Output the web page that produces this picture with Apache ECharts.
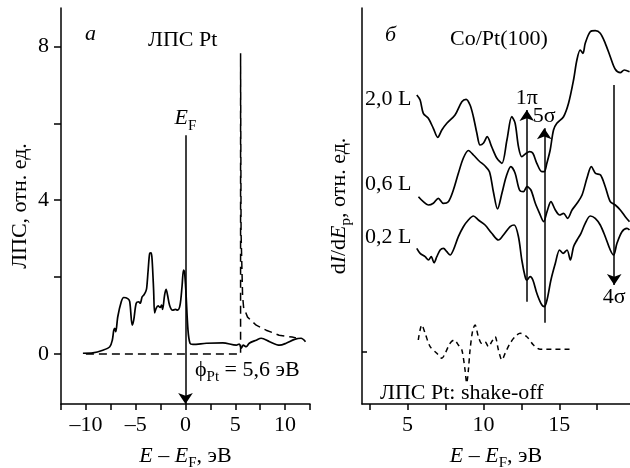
<!DOCTYPE html>
<html>
<head>
<meta charset="utf-8">
<script src="https://cdn.jsdelivr.net/npm/echarts@6/dist/echarts.min.js"></script>
<style>
  html, body { margin: 0; padding: 0; background: #fff; }
  #main { width: 630px; height: 468px; }
</style>
</head>
<body>
<div id="main"></div>
<script>
// panel a: LDOS of Pt
var ldosX = [-10.3, -9.3, -8.3, -7.6, -7.35, -7.2, -7.1, -7.0, -6.8, -6.45, -6.2, -5.8, -5.6, -5.35, -5.2, -4.95, -4.7, -4.55, -4.35, -4.2, -4.0, -3.9, -3.75, -3.6, -3.45, -3.35, -3.2, -3.1, -2.95, -2.75, -2.55, -2.4, -2.3, -2.1, -1.95, -1.8, -1.6, -1.3, -1.0, -0.8, -0.55, -0.35, -0.2, -0.1, 0.05, 0.25, 0.45, 0.75, 2.1, 3.75, 5.1, 5.4, 5.6, 5.8, 6.1, 6.4, 7.1, 7.6, 8.45, 9.45, 10.1, 10.95, 11.6, 12.05];
var ldosY = [0.02, 0.03, 0.10, 0.19, 0.36, 0.62, 0.67, 0.58, 0.97, 1.36, 1.47, 1.44, 1.36, 0.75, 0.88, 1.32, 1.36, 1.32, 1.49, 1.53, 1.62, 1.71, 2.18, 2.61, 2.63, 2.44, 1.66, 1.07, 1.19, 1.25, 1.21, 1.27, 1.16, 1.53, 1.68, 1.53, 1.27, 1.14, 1.16, 1.14, 1.27, 1.75, 2.18, 2.14, 1.58, 0.62, 0.28, 0.25, 0.28, 0.29, 0.23, 0.26, 0.15, 0.23, 0.19, 0.28, 0.36, 0.41, 0.32, 0.23, 0.28, 0.38, 0.41, 0.32];
// dashed: zero line, vacuum level spike and decay
var vacX = [-10, 5.53, 5.53, 5.58, 5.73, 5.83, 6.23, 7.1, 8.1, 9.4, 10.7, 11.1];
var vacY = [0, 0, 7.82, 3.14, 1.53, 1.22, 0.96, 0.75, 0.62, 0.49, 0.44, 0.42];
var fermiArrow = [0, 5.69, -1.3];   // x, from, to

// panel б: dI/dEp spectra (arbitrary units)
var l20X = [5.61, 5.83, 6.04, 6.37, 6.70, 6.99, 7.26, 7.59, 8.13, 8.58, 8.86, 9.12, 9.34, 9.57, 9.78, 10.01, 10.25, 10.54, 10.89, 11.22, 11.55, 11.87, 12.09, 12.31, 12.53, 12.82, 13.04, 13.26, 13.52, 13.85, 14.01, 14.18, 14.40, 14.62, 14.84, 15.28, 15.61, 15.94, 16.16, 16.38, 16.56, 16.71, 17.04, 17.37, 17.70, 18.03, 18.36, 18.69, 19.02, 19.28, 19.63];
var l20Y = [309, 304, 290.7, 285.7, 275.7, 266.7, 274, 280.7, 289, 302.3, 304.7, 299, 287.3, 270.7, 259, 261, 267.3, 257.3, 245.7, 240.7, 264, 287.3, 280.7, 257.3, 247.3, 250.7, 252.3, 250.7, 240.7, 232.3, 232.3, 240.7, 254, 274, 280.7, 287.3, 300.7, 324, 344, 354, 350.7, 360.7, 372.3, 373.3, 370.7, 360.7, 347.3, 334.7, 331.3, 334, 332.3];
var l06X = [5.72, 6.04, 6.37, 6.70, 7.03, 7.36, 7.69, 8.02, 8.35, 8.68, 9.01, 9.34, 9.72, 10.11, 10.40, 10.66, 10.93, 11.22, 11.50, 11.81, 12.09, 12.38, 12.64, 12.87, 13.13, 13.42, 13.70, 13.97, 14.19, 14.45, 14.74, 15.02, 15.28, 15.55, 15.84, 16.17, 16.50, 16.85, 17.11, 17.39, 17.72, 18.03, 18.36, 18.69, 19.02, 19.35, 19.63];
var l06Y = [207.3, 202.3, 199, 200.7, 205.7, 200.7, 202.3, 214, 230.7, 246, 253.5, 249, 243, 238, 232.3, 212, 195, 210.7, 227.3, 237.3, 230.7, 214, 212.3, 217.3, 214, 200.7, 190.7, 182.3, 192.3, 202.3, 194, 189, 190.7, 185.7, 194, 200.7, 209, 227.3, 237.3, 230.7, 229, 217.3, 202.3, 199, 194, 187.3, 182.3];
var l02X = [5.61, 5.83, 6.16, 6.38, 6.56, 6.75, 6.93, 7.15, 7.37, 7.59, 7.81, 8.02, 8.35, 8.68, 9.01, 9.34, 9.67, 10.11, 10.55, 10.99, 11.32, 11.76, 12.03, 12.31, 12.53, 12.75, 12.86, 13.08, 13.26, 13.52, 13.79, 14.01, 14.19, 14.45, 14.74, 15.02, 15.25, 15.51, 15.73, 15.94, 16.17, 16.43, 16.71, 17.04, 17.37, 17.70, 18.03, 18.36, 18.58, 18.80, 19.13, 19.46, 19.63];
var l02Y = [155.7, 150.7, 147.3, 144, 147.3, 141.3, 147.3, 154, 155.7, 152.3, 149, 154, 167.3, 177.3, 184, 188, 184, 179, 170.7, 164, 169, 177.3, 179, 167.3, 144, 127.3, 124, 127.3, 124, 110.7, 100.7, 97.3, 104, 124, 140.7, 154, 150.7, 154, 144, 157.3, 164, 170.7, 180.7, 188, 185.7, 179, 167.3, 154, 149, 160.7, 172.3, 175.7, 174];
var shakeX = [5.71, 5.94, 6.16, 6.49, 6.93, 7.26, 7.48, 7.80, 8.07, 8.35, 8.58, 8.79, 8.90, 9.01, 9.12, 9.30, 9.45, 9.67, 9.89, 10.11, 10.33, 10.55, 10.77, 10.99, 11.22, 11.43, 11.76, 12.09, 12.42, 12.86, 13.30, 13.74, 15.72];
var shakeY = [64, 79, 70.7, 57.3, 50.7, 45.7, 50.7, 60.7, 64, 59, 54, 34, 21, 34, 54, 74, 79, 67.3, 60.7, 62.3, 57.3, 62.3, 67.3, 54, 44, 50.7, 60.7, 67.3, 70.7, 67.3, 59, 54.7, 54.7];
// arrows: x, from, to, label
var arrowX = [12.86, 14.01, 18.62];
var arrowFrom = [102.3, 81.3, 319];
var arrowTo = [294, 275.7, 119];
var arrowText = ['1π', '5σ', '4σ'];

// ticks and labels
var ticksA = [-12.5, -10, -7.5, -5, -2.5, 0, 2.5, 5, 7.5, 10, 12.5];
var labelsA = [-10, -5, 0, 5, 10];
var yTicksA = [0, 2, 4, 6, 8];
var yLabelsA = [0, 4, 8];
var ticksB = [2.5, 5, 7.5, 10, 12.5, 15, 17.5];
var labelsB = [5, 10, 15];
var yTicksB = [52];

var FONT = 'Liberation Serif';
var rich = {
  n: { fontFamily: FONT, fontSize: 22, lineHeight: 30, color: '#000' },
  i: { fontFamily: FONT, fontSize: 22, lineHeight: 30, fontStyle: 'italic', color: '#000' },
  sub: { fontFamily: FONT, fontSize: 15, lineHeight: 15, verticalAlign: 'bottom', color: '#000' }
};

function pairs(xs, ys) {
  return xs.map(function (x, i) { return [x, ys[i]]; });
}

var chart = echarts.init(document.getElementById('main'), null, { renderer: 'canvas' });

var axisLine = { show: true, onZero: false, lineStyle: { color: '#000', width: 1.5 } };
var tickStyle = { color: '#000', width: 1.5 };
var labelStyle = { color: '#000', fontFamily: FONT, fontSize: 22 };

function fmtMinus(v) {
  return String(v).replace('-', '\u2013');
}

var curveStyle = { color: '#000', width: 1.7 };
var nameStyle = { rich: rich, fontFamily: FONT, fontSize: 22, lineHeight: 30, color: '#000' };

var option = {
  backgroundColor: '#fff',
  animation: false,
  grid: [
    { left: 61, top: 8, width: 249, height: 396, outerBoundsMode: 'none', containLabel: false },
    { left: 362, top: 8, width: 268, height: 396, outerBoundsMode: 'none', containLabel: false }
  ],
  xAxis: [
    {
      gridIndex: 0, type: 'value', min: -12.5, max: 12.5,
      axisLine: axisLine,
      axisTick: { show: true, inside: false, length: 6, lineStyle: tickStyle, customValues: ticksA },
      axisLabel: Object.assign({ margin: 10, customValues: labelsA, formatter: fmtMinus }, labelStyle),
      splitLine: { show: false },
      name: '{i|E} – {i|E}{sub|F}, эВ',
      nameLocation: 'middle', nameGap: 23,
      nameTextStyle: nameStyle
    },
    {
      gridIndex: 1, type: 'value', min: 2, max: 19.66,
      axisLine: axisLine,
      axisTick: { show: true, inside: false, length: 6, lineStyle: tickStyle, customValues: ticksB },
      axisLabel: Object.assign({ margin: 10, customValues: labelsB }, labelStyle),
      splitLine: { show: false },
      name: '{i|E} – {i|E}{sub|F}, эВ',
      nameLocation: 'middle', nameGap: 23,
      nameTextStyle: nameStyle
    }
  ],
  yAxis: [
    {
      gridIndex: 0, type: 'value', min: -1.3, max: 9,
      axisLine: axisLine,
      axisTick: { show: true, inside: false, length: 7, lineStyle: tickStyle, customValues: yTicksA },
      axisLabel: Object.assign({ margin: 12, customValues: yLabelsA }, labelStyle),
      splitLine: { show: false },
      name: 'ЛПС, отн. ед.',
      nameLocation: 'middle', nameGap: 30, nameRotate: 90,
      nameTextStyle: { fontFamily: FONT, fontSize: 22, color: '#000' }
    },
    {
      gridIndex: 1, type: 'value', min: 0, max: 396,
      axisLine: axisLine,
      axisTick: { show: true, inside: true, length: 5, lineStyle: tickStyle, customValues: yTicksB },
      axisLabel: { show: false },
      splitLine: { show: false },
      name: 'd{i|I}/d{i|E}{sub|p}, отн. ед.',
      nameLocation: 'middle', nameGap: 8, nameRotate: 90,
      nameTextStyle: nameStyle
    }
  ],
  graphic: [
    { type: 'text', left: 85, top: 23, style: { text: 'a', font: 'italic 22px "Liberation Serif"', fill: '#000' } },
    { type: 'text', left: 148, top: 29, style: { text: 'ЛПС Pt', font: '22px "Liberation Serif"', fill: '#000' } },
    { type: 'text', left: 195, top: 359, style: { text: '{n|\u03d5}{sub|Pt}{n| = 5,6 эВ}', rich: rich } },
    { type: 'text', left: 385, top: 24, style: { text: 'б', font: 'italic 22px "Liberation Serif"', fill: '#000' } },
    { type: 'text', left: 450, top: 28, style: { text: 'Co/Pt(100)', font: '22px "Liberation Serif"', fill: '#000' } },
    { type: 'text', left: 365, top: 88, style: { text: '2,0 L', font: '22px "Liberation Serif"', fill: '#000' } },
    { type: 'text', left: 365, top: 173, style: { text: '0,6 L', font: '22px "Liberation Serif"', fill: '#000' } },
    { type: 'text', left: 365, top: 226, style: { text: '0,2 L', font: '22px "Liberation Serif"', fill: '#000' } },
    { type: 'text', left: 380, top: 382, style: { text: 'ЛПС Pt: shake-off', font: '22px "Liberation Serif"', fill: '#000' } }
  ],
  series: [
    {
      type: 'line', xAxisIndex: 0, yAxisIndex: 0, data: pairs(ldosX, ldosY),
      showSymbol: false, smooth: 0.3, lineStyle: curveStyle, silent: true,
      markLine: {
        silent: true, symbol: ['none', 'arrow'], symbolSize: 11,
        lineStyle: { color: '#000', width: 1.5, type: 'solid' },
        data: [[
          { coord: [fermiArrow[0], fermiArrow[1]], label: { show: true, position: 'start', distance: 2, formatter: '{i|E}{sub|F}', rich: rich } },
          { coord: [fermiArrow[0], fermiArrow[2]] }
        ]]
      }
    },
    {
      type: 'line', xAxisIndex: 0, yAxisIndex: 0, data: pairs(vacX, vacY),
      showSymbol: false, smooth: false, silent: true,
      lineStyle: { color: '#000', width: 1.5, type: [8, 5] }
    },
    {
      type: 'line', xAxisIndex: 1, yAxisIndex: 1, data: pairs(l20X, l20Y),
      showSymbol: false, smooth: 0.3, lineStyle: curveStyle, silent: true,
      markLine: {
        silent: true, symbol: ['none', 'arrow'], symbolSize: 11,
        lineStyle: { color: '#000', width: 1.5, type: 'solid' },
        data: arrowX.map(function (x, i) {
          return [
            { coord: [x, arrowFrom[i]] },
            { coord: [x, arrowTo[i]], label: { show: true, position: 'end', distance: 1, formatter: arrowText[i], fontFamily: FONT, fontSize: 22, color: '#000' } }
          ];
        })
      }
    },
    {
      type: 'line', xAxisIndex: 1, yAxisIndex: 1, data: pairs(l06X, l06Y),
      showSymbol: false, smooth: 0.3, lineStyle: curveStyle, silent: true
    },
    {
      type: 'line', xAxisIndex: 1, yAxisIndex: 1, data: pairs(l02X, l02Y),
      showSymbol: false, smooth: 0.3, lineStyle: curveStyle, silent: true
    },
    {
      type: 'line', xAxisIndex: 1, yAxisIndex: 1, data: pairs(shakeX, shakeY),
      showSymbol: false, smooth: 0.3, silent: true,
      lineStyle: { color: '#000', width: 1.5, type: [5, 4] }
    }
  ]
};

chart.setOption(option);
</script>
</body>
</html>
